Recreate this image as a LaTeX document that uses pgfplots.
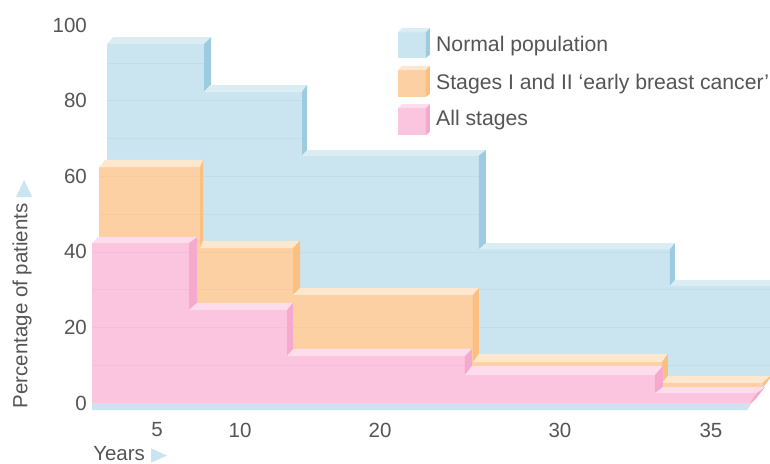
\documentclass[border=0pt]{standalone}
\usepackage{pgfplots}
\pgfplotsset{compat=1.18}
\usepackage{fontspec}
\setmainfont{Liberation Sans}
\definecolor{bF}{HTML}{CAE5EF}\definecolor{bS}{HTML}{9DCBDF}\definecolor{bT}{HTML}{DAEDF3}\definecolor{bG}{HTML}{C0DEEA}
\definecolor{oF}{HTML}{FCD0A2}\definecolor{oS}{HTML}{FBBF80}\definecolor{oT}{HTML}{FDE8CF}\definecolor{oG}{HTML}{FAC999}
\definecolor{pF}{HTML}{FBC4DF}\definecolor{pS}{HTML}{F5A9CF}\definecolor{pT}{HTML}{FDDDEC}\definecolor{pG}{HTML}{F7BCD9}
\definecolor{txt}{HTML}{555555}
\pgfplotsset{
  f/.style={fill=#1,draw=none,forget plot,mark=none},
  g/.style={draw=#1,line width=0.4pt,forget plot,mark=none,unbounded coords=jump},
}
\begin{document}
\begin{tikzpicture}
\begin{axis}[
  scale only axis,width=770pt,height=463pt,
  xmin=0,xmax=770,ymin=-15.873,ymax=106.61,
  axis background/.style={fill=white},
  axis line style={draw=none},
  major tick length=0pt,
  xtick={157,240,380,560,711},
  xticklabels={5,10,20,30,35},
  ytick={0,20,40,60,80,100},
  xticklabel style={anchor=center,yshift=33pt,inner sep=0pt,text=txt,font=\fontsize{20.5}{23}\selectfont},
  yticklabel style={anchor=east,xshift=87pt,inner sep=0pt,text=txt,font=\fontsize{20.5}{23}\selectfont},
  /pgf/number format/assume math mode=true,
]
% Normal population
\addplot[f=bF] coordinates {(107,0)(107,95)(204,95)(204,82.4)(302,82.4)(302,65.5)(479,65.5)(479,40.7)(670,40.7)(670,31)(770,31)(770,6.6)(752,0)};
\addplot[g=bG] coordinates {(107,90)(204,90)(204,nan)(107,80)(302,80)(302,nan)(107,70)(302,70)(302,nan)(107,60)(479,60)(479,nan)(107,50)(479,50)(479,nan)(107,40)(670,40)(670,nan)(107,30)(770,30)(770,nan)(107,20)(770,20)(770,nan)(107,10)(770,10)};
\addplot[f=bT] coordinates {(107,95)(204,95)(211,96.8)(113,96.8)};
\addplot[f=bS] coordinates {(204,95)(211,96.8)(211,84.1)(204,82.4)};
\addplot[f=bT] coordinates {(204,82.4)(302,82.4)(307,84.1)(210,84.1)};
\addplot[f=bS] coordinates {(302,82.4)(307,84.1)(307,66.9)(302,65.5)};
\addplot[f=bT] coordinates {(302,65.5)(479,65.5)(486,66.9)(307,66.9)};
\addplot[f=bS] coordinates {(479,65.5)(486,66.9)(486,42.3)(479,40.7)};
\addplot[f=bT] coordinates {(479,40.7)(670,40.7)(675,42.3)(486,42.3)};
\addplot[f=bS] coordinates {(670,40.7)(675,42.3)(675,32.5)(670,31)};
\addplot[f=bT] coordinates {(670,31)(770,31)(770,32.5)(675,32.5)};
\addplot[f=bF] coordinates {(92,0)(92,-1.9)(747,-1.9)(752,0)};
% Stages I and II
\addplot[f=oF] coordinates {(99,0)(99,62.4)(200,62.4)(200,41)(293,41)(293,28.6)(473,28.6)(473,10.8)(662,10.8)(662,5.3)(763,5.3)(759,2.5)(752,0)};
\addplot[g=oG] coordinates {(99,60)(200,60)(200,nan)(99,50)(200,50)(200,nan)(99,40)(293,40)(293,nan)(99,30)(293,30)(293,nan)(99,20)(473,20)};
\addplot[f=oT] coordinates {(99,62.4)(200,62.4)(203,64.3)(105,64.3)};
\addplot[f=oS] coordinates {(200,62.4)(203,64.3)(203,42.9)(200,41)};
\addplot[f=oT] coordinates {(200,41)(293,41)(300,42.9)(203,42.9)};
\addplot[f=oS] coordinates {(293,41)(300,42.9)(300,30.4)(293,28.6)};
\addplot[f=oT] coordinates {(293,28.6)(473,28.6)(479,30.4)(300,30.4)};
\addplot[f=oS] coordinates {(473,28.6)(479,30.4)(479,13)(473,10.8)};
\addplot[f=oT] coordinates {(473,10.8)(662,10.8)(668,13)(479,13)};
\addplot[f=oS] coordinates {(662,10.8)(668,13)(668,7.1)(662,5.3)};
\addplot[f=oT] coordinates {(662,5.3)(763,5.3)(770,7.1)(668,7.1)};
\addplot[f=oS] coordinates {(763,5.3)(770,7.1)(770,6.6)(763,4)};
% All stages
\addplot[f=pF] coordinates {(92,0)(92,42.3)(189,42.3)(189,24.6)(287,24.6)(287,12.4)(465,12.4)(465,7.4)(655,7.4)(655,2.6)(757,2.6)(750,0)};
\addplot[g=pG] coordinates {(92,40)(189,40)(189,nan)(92,30)(189,30)(189,nan)(92,20)(287,20)(287,nan)(92,10)(465,10)};
\addplot[f=pT] coordinates {(92,42.3)(189,42.3)(197,43.9)(98,43.9)};
\addplot[f=pS] coordinates {(189,42.3)(197,43.9)(197,26.5)(189,24.6)};
\addplot[f=pT] coordinates {(189,24.6)(287,24.6)(293,26.5)(197,26.5)};
\addplot[f=pS] coordinates {(287,24.6)(293,26.5)(293,14.3)(287,12.4)};
\addplot[f=pT] coordinates {(287,12.4)(465,12.4)(472,14.3)(293,14.3)};
\addplot[f=pS] coordinates {(465,12.4)(472,14.3)(472,9.8)(465,7.4)};
\addplot[f=pT] coordinates {(465,7.4)(655,7.4)(663,9.8)(472,9.8)};
\addplot[f=pS] coordinates {(655,7.4)(663,9.8)(663,4.2)(655,2.6)};
\addplot[f=pT] coordinates {(655,2.6)(757,2.6)(765,4.2)(663,4.2)};
\addplot[f=pS] coordinates {(757,2.6)(765,4.2)(755,0.8)(750,0)};
% legend swatches
\addplot[f=bF] coordinates {(398,98.1)(426,98.1)(426,91.3)(398,91.3)};
\addplot[f=bT] coordinates {(398,98.1)(426,98.1)(430,99.2)(402,99.2)};
\addplot[f=bS] coordinates {(426,98.1)(430,99.2)(430,92.2)(426,91.3)};
\addplot[f=oF] coordinates {(398,88.1)(426,88.1)(426,81)(398,81)};
\addplot[f=oT] coordinates {(398,88.1)(426,88.1)(430,89.2)(402,89.2)};
\addplot[f=oS] coordinates {(426,88.1)(430,89.2)(430,81.9)(426,81)};
\addplot[f=pF] coordinates {(398,78)(426,78)(426,70.9)(398,70.9)};
\addplot[f=pT] coordinates {(398,78)(426,78)(430,79.1)(402,79.1)};
\addplot[f=pS] coordinates {(426,78)(430,79.1)(430,71.8)(426,70.9)};
% arrows
\addplot[f=bF] coordinates {(16,54.5)(32,54.5)(24,59)};
\addplot[f=bF] coordinates {(151,-12)(151,-15.8)(167,-13.9)};
\node[anchor=west,text=txt,inner sep=0pt,font=\fontsize{21.2}{24}\selectfont] at (axis cs:436,94.4) {Normal population};
\node[anchor=west,text=txt,inner sep=0pt,font=\fontsize{21.2}{24}\selectfont] at (axis cs:436,84.4) {Stages I and II ‘early breast cancer’};
\node[anchor=west,text=txt,inner sep=0pt,font=\fontsize{21.2}{24}\selectfont] at (axis cs:436,74.8) {All stages};
\node[anchor=west,text=txt,inner sep=0pt,font=\fontsize{20.5}{23}\selectfont] at (axis cs:93,-13.3) {Years};
\node[anchor=center,rotate=90,text=txt,inner sep=0pt,font=\fontsize{20.5}{23}\selectfont] at (axis cs:22,25.7) {Percentage of patients};
\end{axis}
\end{tikzpicture}
\end{document}
